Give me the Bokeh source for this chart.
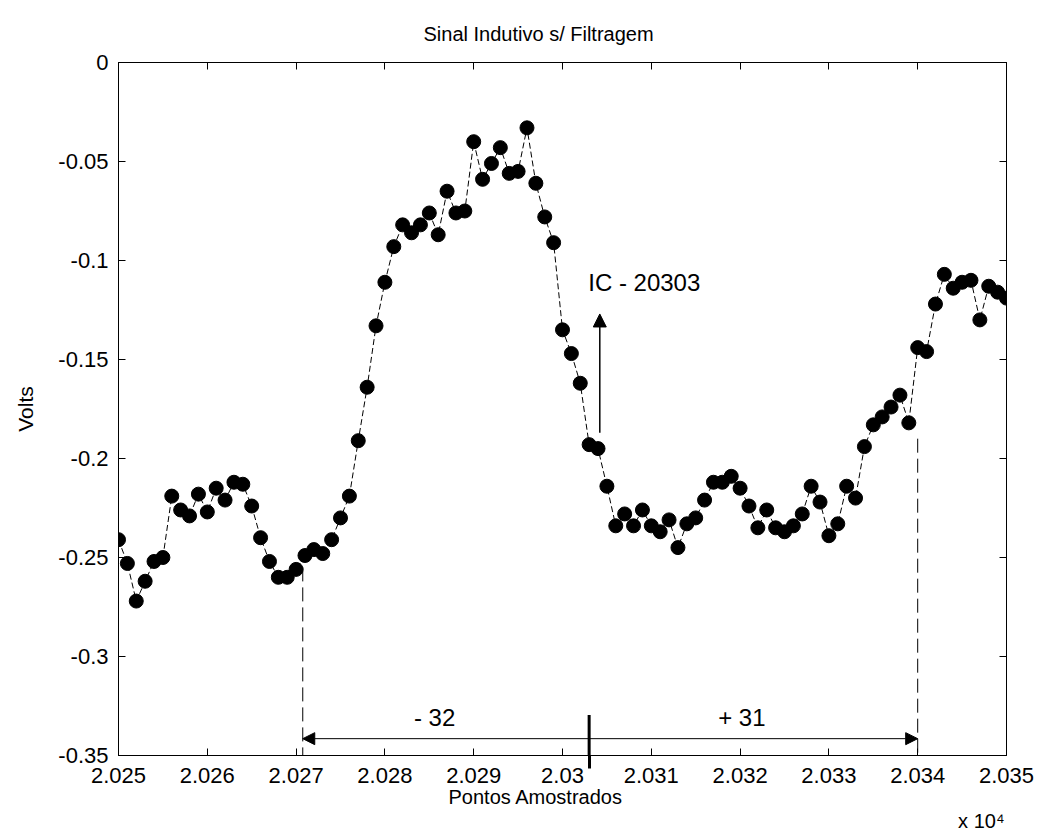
from bokeh.plotting import figure
from bokeh.models import (LinearAxis, FixedTicker, Label, Arrow, NormalHead, Range1d, Title)
from bokeh.embed import file_html
from bokeh.resources import INLINE

# Sample index and measured voltage of the inductive sensor (no filtering)
samples = list(range(20250, 20351))
volts = [
    -0.241, -0.253, -0.272, -0.262, -0.252, -0.250, -0.219, -0.226, -0.229, -0.218,
    -0.227, -0.215, -0.221, -0.212, -0.213, -0.224, -0.240, -0.252, -0.260, -0.260,
    -0.256, -0.249, -0.246, -0.248, -0.241, -0.230, -0.219, -0.191, -0.164, -0.133,
    -0.111, -0.093, -0.082, -0.086, -0.082, -0.076, -0.087, -0.065, -0.076, -0.075,
    -0.040, -0.059, -0.051, -0.043, -0.056, -0.055, -0.033, -0.061, -0.078, -0.091,
    -0.135, -0.147, -0.162, -0.193, -0.195, -0.214, -0.234, -0.228, -0.234, -0.226,
    -0.234, -0.237, -0.231, -0.245, -0.233, -0.230, -0.221, -0.212, -0.212, -0.209,
    -0.215, -0.224, -0.235, -0.226, -0.235, -0.237, -0.234, -0.228, -0.214, -0.222,
    -0.239, -0.233, -0.214, -0.220, -0.194, -0.183, -0.179, -0.174, -0.168, -0.182,
    -0.144, -0.146, -0.122, -0.107, -0.114, -0.111, -0.110, -0.130, -0.113, -0.116,
    -0.119,
]

x_ticks = [20250, 20260, 20270, 20280, 20290, 20300, 20310, 20320, 20330, 20340, 20350]
x_tick_labels = ["2.025", "2.026", "2.027", "2.028", "2.029", "2.03",
                 "2.031", "2.032", "2.033", "2.034", "2.035"]
y_ticks = [0, -0.05, -0.1, -0.15, -0.2, -0.25, -0.3, -0.35]
y_tick_labels = ["0", "-0.05", "-0.1", "-0.15", "-0.2", "-0.25", "-0.3", "-0.35"]

# Detection window around the centre sample
ic_sample = 20303
ic_arrow_x = 20304.2
window_left = 20270.75
window_right = 20340
offset_left = "- 32"
offset_right = "+ 31"

FONT = "Liberation Sans"

p = figure(width=1040, height=835, output_backend="svg", toolbar_location=None,
           x_range=Range1d(20250, 20350), y_range=Range1d(-0.35, 0),
           min_border_left=118, min_border_right=34, min_border_top=62,
           min_border_bottom=80, y_axis_label="Volts")

p.background_fill_color = "white"
p.border_fill_color = "white"
p.outline_line_color = "black"
p.outline_line_width = 1
p.xgrid.visible = False
p.ygrid.visible = False

p.title.text = "Sinal Indutivo s/ Filtragem"
p.title.align = "left"
p.title.offset = 305
p.title.text_font = FONT
p.title.text_font_size = "20px"
p.title.text_font_style = "normal"
p.title.text_color = "black"
p.title.standoff = 36

for ax in p.xaxis:
    # the centre-sample marker continues below the axis as a heavy minor tick
    ax.ticker = FixedTicker(ticks=x_ticks, minor_ticks=[ic_sample])
    ax.major_label_overrides = dict(zip(x_ticks, x_tick_labels))
    ax.minor_tick_in = 0
    ax.minor_tick_out = 13
    ax.minor_tick_line_width = 3
    ax.minor_tick_line_color = "black"
for ax in p.yaxis:
    ax.ticker = FixedTicker(ticks=y_ticks)
    ax.major_label_overrides = dict(zip(y_ticks, y_tick_labels))
    ax.minor_tick_line_color = None

for ax in p.xaxis + p.yaxis:
    ax.major_tick_in = 7
    ax.major_tick_out = 0
    ax.axis_line_color = "black"
    ax.major_tick_line_color = "black"
    ax.major_label_text_font = FONT
    ax.major_label_text_font_size = "22px"
    ax.major_label_text_color = "black"
    ax.axis_label_text_font = FONT
    ax.axis_label_text_font_size = "21px"
    ax.axis_label_text_font_style = "normal"
    ax.axis_label_text_color = "black"

# the long minor tick widens the x axis, pull its labels back up
p.xaxis.major_label_standoff = -1
p.yaxis.major_label_standoff = 10
p.yaxis.axis_label_standoff = 18

# Box ticks on the top and right sides
top_axis = LinearAxis(ticker=FixedTicker(ticks=x_ticks), major_tick_in=7, major_tick_out=0,
                      minor_tick_line_color=None, major_label_text_font_size="1px",
                      major_label_text_color=None, major_label_standoff=0,
                      axis_line_color="black")
right_axis = LinearAxis(ticker=FixedTicker(ticks=y_ticks), major_tick_in=7, major_tick_out=0,
                        minor_tick_line_color=None, major_label_text_font_size="1px",
                        major_label_text_color=None, major_label_standoff=0,
                        axis_line_color="black")
p.add_layout(top_axis, "above")
p.add_layout(right_axis, "right")

# Axis title and multiplier below the x axis
p.add_layout(Title(text="Pontos Amostrados", align="left", offset=330, standoff=0,
                   vertical_align="top", text_font=FONT, text_font_size="20px",
                   text_font_style="normal", text_color="black"), "below")
p.add_layout(Title(text="x 10\u2074", align="right", offset=2, standoff=0,
                   vertical_align="top", text_font=FONT, text_font_size="20px",
                   text_font_style="normal", text_color="black"), "below")

# Signal
p.line(samples, volts, line_color="black", line_width=1, line_dash="6 3")
p.scatter(samples, volts, size=14, fill_color="black", line_color="black")

# Window boundaries
p.line([window_left, window_left], [-0.255, -0.35], line_color="black",
       line_width=1, line_dash="14 6")
p.line([window_right, window_right], [-0.19, -0.35], line_color="black",
       line_width=1, line_dash="14 6")

# Double arrow spanning the window
p.add_layout(Arrow(x_start=window_left, y_start=-0.3415, x_end=window_right, y_end=-0.3415,
                   line_color="black", line_width=1,
                   start=NormalHead(size=12, fill_color="black", line_color="black"),
                   end=NormalHead(size=12, fill_color="black", line_color="black")))

# Centre marker (part inside the frame)
p.add_layout(Arrow(x_start=ic_sample, y_start=-0.3295, x_end=ic_sample, y_end=-0.35,
                   line_color="black", line_width=3, end=None))

# Arrow pointing at the centre sample
p.add_layout(Arrow(x_start=ic_arrow_x, y_start=-0.187, x_end=ic_arrow_x, y_end=-0.127,
                   line_color="black", line_width=1.5,
                   end=NormalHead(size=13, fill_color="black", line_color="black")))

p.add_layout(Label(x=20302.9, y=-0.111, text="IC - 20303", text_font=FONT,
                   text_font_size="24px", text_color="black", text_baseline="middle",
                   text_align="left"))
p.add_layout(Label(x=20285.6, y=-0.331, text=offset_left, text_font=FONT,
                   text_font_size="24px", text_color="black", text_baseline="middle",
                   text_align="center"))
p.add_layout(Label(x=20320.2, y=-0.331, text=offset_right, text_font=FONT,
                   text_font_size="24px", text_color="black", text_baseline="middle",
                   text_align="center"))

open("out.html", "w").write(file_html(p, INLINE))
